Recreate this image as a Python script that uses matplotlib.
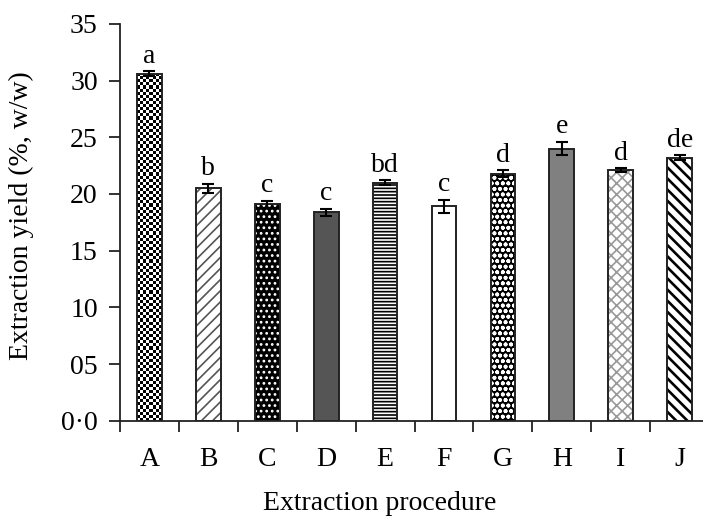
import matplotlib
matplotlib.use("Agg")
import matplotlib.pyplot as plt
import numpy as np

# data
procedures = ["A", "B", "C", "D", "E", "F", "G", "H", "I", "J"]
yield_pct = [30.6, 20.5, 19.1, 18.4, 21.0, 18.9, 21.8, 24.0, 22.1, 23.2]
yield_err = [0.2, 0.4, 0.3, 0.3, 0.2, 0.6, 0.3, 0.6, 0.15, 0.2]
groups = ["a", "b", "c", "c", "bd", "c", "d", "e", "d", "de"]
y_ticks = [0, 5, 10, 15, 20, 25, 30, 35]
y_tick_labels = ["0\u00b70", "05", "10", "15", "20", "25", "30", "35"]

# fill style of each bar: (face colour, hatch, hatch colour)
styles = [
    ("white", None, "black"),        # A: checkerboard drawn below
    ("white", "///", "#555555"),
    ("black", "...", "white"),
    ("#555555", None, "black"),
    ("white", "-----", "black"),
    ("white", None, "black"),
    ("black", "ooo", "white"),
    ("#808080", None, "black"),
    ("white", "xxx", "#999999"),
    ("white", "\\\\\\", "black"),
]

plt.rcParams["font.family"] = "Liberation Serif"
plt.rcParams["hatch.linewidth"] = 1.2

fig = plt.figure(figsize=(7.03, 5.17), dpi=100)
ax = fig.add_axes([0.1707, 0.186, 0.838, 0.768])

x = np.arange(len(procedures))
width = 0.42
fs = 20

bars = []
for i, (fc, hatch, hc) in enumerate(styles):
    # fill with hatch in its own colour, then outline on top
    b = ax.bar(x[i], yield_pct[i], width, color=fc, edgecolor=hc,
               hatch=hatch, linewidth=0, zorder=2)
    if i == 9 and hasattr(b[0], "set_hatch_linewidth"):
        b[0].set_hatch_linewidth(1.9)
    bars.append(b[0])
    ax.bar(x[i], yield_pct[i], width, fill=False, edgecolor="#222222",
           linewidth=1.4, zorder=4)

ax.set_xlim(-0.5, 9.5)
ax.set_ylim(0, 35)

# checkerboard fill for bar A, clipped to the bar
bar_a = bars[0]
fig.canvas.draw()
bb = bar_a.get_window_extent()
nx = max(2, int(round(bb.width / 3.1)))
ny = max(2, int(round(bb.height / 3.1)))
checker = (np.indices((ny, nx)).sum(axis=0) % 2).astype(float)
img = ax.imshow(checker, cmap="gray", interpolation="nearest", aspect="auto",
                extent=(bar_a.get_x(), bar_a.get_x() + bar_a.get_width(),
                        0, bar_a.get_height()), zorder=3)
img.set_clip_path(bar_a)
ax.set_xlim(-0.5, 9.5)
ax.set_ylim(0, 35)

ax.errorbar(x, yield_pct, yerr=yield_err, fmt="none", ecolor="black",
            elinewidth=1.5, capsize=4, capthick=1.5, zorder=5)

for xi, v, e, g in zip(x, yield_pct, yield_err, groups):
    ax.text(xi, v + e + 0.2, g, ha="center", va="bottom", fontsize=fs)

ax.set_yticks(y_ticks)
ax.set_yticklabels(y_tick_labels)
ax.set_xticks(x)
ax.set_xticklabels(procedures)
ax.set_xticks(np.arange(-0.5, 10, 1), minor=True)
ax.tick_params(axis="x", which="major", length=0, pad=19, labelsize=fs)
ax.tick_params(axis="x", which="minor", length=8, width=1.3,
               direction="out", color="#222222")
ax.tick_params(axis="y", length=8, width=1.3, direction="out",
               color="#222222", labelsize=fs, pad=8)

for side in ("top", "right"):
    ax.spines[side].set_visible(False)
for side in ("left", "bottom"):
    ax.spines[side].set_linewidth(1.3)
    ax.spines[side].set_color("#222222")

ax.set_ylabel("Extraction yield (%, w/w)", fontsize=fs)
ax.yaxis.set_label_coords(-0.146, 0.516)
ax.set_xlabel("Extraction procedure", fontsize=fs)
ax.xaxis.set_label_coords(0.44, -0.176)

fig.savefig("out.png", dpi=100)
